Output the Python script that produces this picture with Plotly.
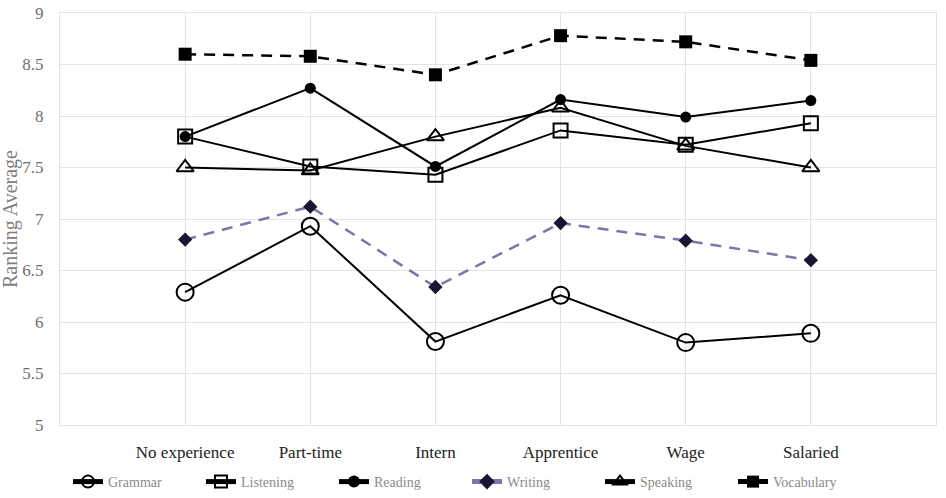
import plotly.graph_objects as go

categories = ["No experience", "Part-time", "Intern", "Apprentice", "Wage", "Salaried"]
grammar = [6.29, 6.93, 5.81, 6.26, 5.80, 5.89]
listening = [7.80, 7.51, 7.43, 7.86, 7.72, 7.93]
reading = [7.80, 8.27, 7.51, 8.16, 7.99, 8.15]
writing = [6.80, 7.12, 6.34, 6.96, 6.79, 6.60]
speaking = [7.50, 7.47, 7.80, 8.08, 7.71, 7.50]
vocabulary = [8.60, 8.58, 8.40, 8.78, 8.72, 8.54]
y_ticks = [5, 5.5, 6, 6.5, 7, 7.5, 8, 8.5, 9]

series = [
    ("Grammar", grammar, dict(symbol="circle-open", size=17, color="black", line=dict(width=2)), dict(color="black", width=2)),
    ("Listening", listening, dict(symbol="square-open", size=14, color="black", line=dict(width=2)), dict(color="black", width=2)),
    ("Reading", reading, dict(symbol="circle", size=11, color="black"), dict(color="black", width=2)),
    ("Writing", writing, dict(symbol="diamond", size=11, color="#1c1433"), dict(color="#8273a9", width=2.5, dash="11px,8px")),
    ("Speaking", speaking, dict(symbol="triangle-up-open", size=15, color="black", line=dict(width=2)), dict(color="black", width=2)),
    ("Vocabulary", vocabulary, dict(symbol="square", size=13, color="black"), dict(color="black", width=2.5, dash="11px,8px")),
]

fig = go.Figure()
for name, vals, marker, line in series:
    fig.add_trace(go.Scatter(x=categories, y=vals, name=name, mode="lines+markers",
                             marker=marker, line=line))

fig.update_layout(
    width=946, height=498,
    margin=dict(l=60, r=10, t=13, b=73, autoexpand=False),
    plot_bgcolor="white", paper_bgcolor="white",
    font=dict(family="Liberation Serif", color="#595959"),
    showlegend=True,
    legend=dict(orientation="h", x=8 / 876, xanchor="left", y=-0.012, yref="container", yanchor="bottom",
                font=dict(size=14, color="#8a8a8a", family="Liberation Serif"),
                entrywidth=88, entrywidthmode="pixels", traceorder="normal",
                itemsizing="constant"),
    annotations=[dict(text="Ranking Average", xref="paper", yref="paper",
                      x=-50 / 876, y=0.5, xanchor="center", yanchor="middle",
                      textangle=-90, showarrow=False,
                      font=dict(size=20, color="#808080", family="Liberation Serif"))],
)
fig.update_xaxes(
    type="category", range=[-1, 6],
    showgrid=True, gridcolor="#e3e3e3", gridwidth=1,
    showline=True, linecolor="#e3e3e3", mirror=True,
    tickfont=dict(size=17, color="#222222", family="Liberation Serif"),
    ticks="", ticklabelstandoff=12,
)
fig.update_yaxes(
    range=[5, 9], tickvals=y_ticks, ticktext=[f"{v:g}" for v in y_ticks],
    showgrid=True, gridcolor="#e3e3e3", gridwidth=1,
    showline=True, linecolor="#e3e3e3", mirror=True,
    zeroline=False,
    tickfont=dict(size=17, color="#6e6e6e", family="Liberation Serif"),
    ticks="", ticklabelstandoff=12,
)

fig.write_html("out.html")
